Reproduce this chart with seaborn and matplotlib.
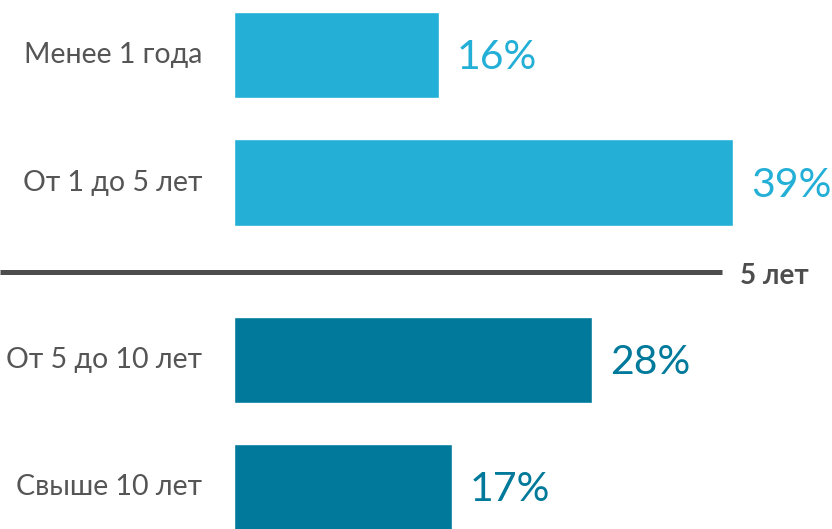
import matplotlib
matplotlib.use("Agg")
import matplotlib.pyplot as plt
import seaborn as sns
import pandas as pd
from matplotlib.lines import Line2D

# data
categories = ["Менее 1 года", "От 1 до 5 лет", "От 5 до 10 лет", "Свыше 10 лет"]
shares = [16, 39, 28, 17]
groups = ["до 5 лет", "до 5 лет", "после 5 лет", "после 5 лет"]
row_pos = [0, 1, 2.39, 3.39]
divider_label = "5 лет"

light = "#23afd6"
dark = "#00799a"

sns.set_style("white")
plt.rcParams["font.family"] = ["Lato", "DejaVu Sans"]

df = pd.DataFrame({"cat": categories, "share": shares, "group": groups, "pos": row_pos})

fig = plt.figure(figsize=(8.32, 5.29), dpi=100)
px = 12.8  # pixels per percent
ax = fig.add_axes([234 / 832, 0, 45 * px / 832, 1])

sns.barplot(data=df, x="share", y="pos", hue="group", orient="h", native_scale=True,
            palette={"до 5 лет": light, "после 5 лет": dark}, width=0.675,
            dodge=False, legend=False, ax=ax, saturation=1)

ax.set_xlim(0, 45)
ax.set_ylim((529 - 55) / 127.5, -55 / 127.5)
ax.axis("off")

for cat, val, grp, pos in zip(categories, shares, groups, row_pos):
    col = light if grp == "до 5 лет" else dark
    ax.text(-32 / px, pos, cat, ha="right", va="center", fontsize=20.5, color="#555555")
    ax.text(val + 18 / px, pos + 0.02, f"{val}%", ha="left", va="center", fontsize=29.5,
            color=col)

ydiv = 1 - 272 / 529
fig.add_artist(Line2D([0, 722 / 832], [ydiv, ydiv], transform=fig.transFigure,
                      color="#4d4d4d", lw=3.6, solid_capstyle="butt"))
fig.text(774 / 832, ydiv - 0.007, divider_label, ha="center", va="center", fontsize=20,
         fontweight="bold", color="#4d4d4d")

fig.savefig("out.png", dpi=100)
